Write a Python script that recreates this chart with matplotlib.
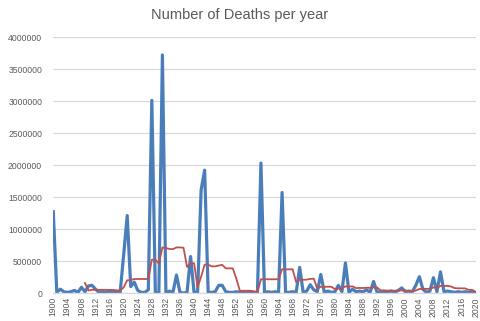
import numpy as np
import pandas as pd
import matplotlib
matplotlib.use('Agg')
import matplotlib.pyplot as plt

plt.rcParams['font.family'] = ['Liberation Sans', 'DejaVu Sans']

# 연도별 사망자 수 (천 명 단위로 그림에서 읽은 값)
years = list(range(1900, 2021))
deaths_k = [
    1270, 10, 60, 20, 10, 20, 40, 10, 90, 20,       # 1900-1909
    110, 120, 60, 10, 20, 10, 30, 10, 20, 10,       # 1910-1919
    600, 1210, 100, 170, 40, 10, 10, 50, 3010, 0,   # 1920-1929
    10, 3720, 0, 30, 10, 280, 10, 0, 10, 570,       # 1930-1939
    10, 10, 1610, 1920, 10, 10, 20, 120, 120, 20,   # 1940-1949
    10, 10, 20, 10, 10, 10, 20, 10, 10, 2030,       # 1950-1959
    10, 20, 10, 20, 10, 1570, 10, 10, 20, 10,       # 1960-1969
    400, 10, 30, 130, 50, 20, 290, 10, 30, 10,      # 1970-1979
    20, 120, 20, 470, 10, 60, 20, 30, 20, 50,       # 1980-1989
    10, 180, 10, 20, 10, 20, 30, 10, 40, 80,        # 1990-1999
    20, 30, 20, 120, 255, 60, 10, 30, 240, 20,      # 2000-2009
    330, 20, 30, 20, 10, 20, 10, 20, 10, 20,        # 2010-2019
    10,                                             # 2020
]
y_ticks = [0, 500000, 1000000, 1500000, 2000000, 2500000, 3000000, 3500000, 4000000]
x_ticks = list(range(1900, 2021, 4))

deaths = pd.Series(np.array(deaths_k) * 1000, index=years)
trend = deaths.rolling(10).mean()   # 10년 이동평균 추세선

fig = plt.figure(figsize=(4.8, 3.21), dpi=100)
ax = fig.add_axes([0.111, 0.0872, 0.880, 0.7975])

ax.plot(deaths.index, deaths.values, color='#4a7ebb', lw=2.3, solid_joinstyle='round')
ax.plot(trend.index, trend.values, color='#c0504d', lw=1.3)

ax.set_xlim(1900, 2020)
ax.set_ylim(0, 4000000)
ax.set_yticks(y_ticks)
ax.set_yticklabels([str(v) for v in y_ticks])
ax.set_xticks(x_ticks)
ax.set_xticklabels([str(v) for v in x_ticks], rotation=90)
ax.tick_params(axis='both', length=0, labelsize=6.2, colors='#595959')
ax.tick_params(axis='y', pad=8)
ax.tick_params(axis='x', pad=3)

ax.grid(axis='y', color='#d9d9d9', lw=0.9)
ax.set_axisbelow(True)
for side in ['top', 'right', 'left']:
    ax.spines[side].set_visible(False)
ax.spines['bottom'].set_color('#d9d9d9')
ax.spines['bottom'].set_linewidth(0.9)

fig.text(0.5, 0.953, 'Number of Deaths per year', ha='center', va='center',
         fontsize=10.5, color='#595959')

fig.savefig('out.png', dpi=100)
